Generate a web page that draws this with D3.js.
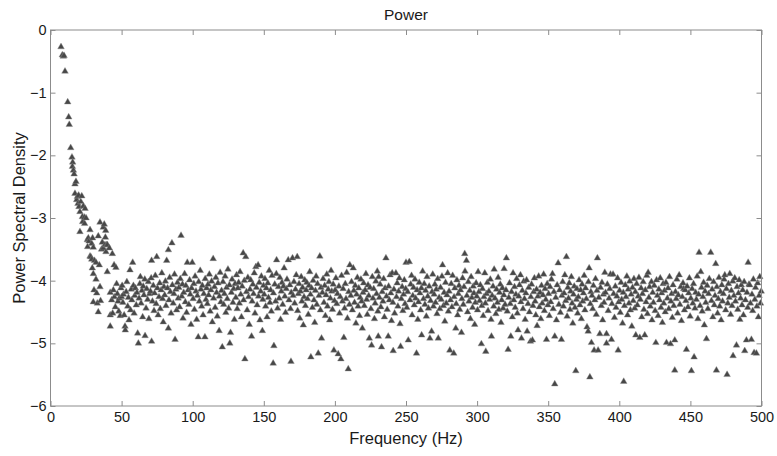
<!DOCTYPE html>
<html>
<head>
<meta charset="utf-8">
<script src="https://cdn.jsdelivr.net/npm/d3@7"></script>
<style>
  html, body { margin: 0; padding: 0; background: #fff; }
  svg { display: block; font-family: "Liberation Sans", Arial, Helvetica, sans-serif; }
</style>
</head>
<body>
<div id="chart"></div>
<script>
// points, [frequency Hz, power spectral density]
let lowBand = [[7.4,-0.27],[8.3,-0.40],[9.0,-0.42],[9.5,-0.41],[10.2,-0.66],[12.1,-1.15],[12.8,-1.39],[13.2,-1.51],[14.2,-1.88],[15.1,-2.03],[15.6,-2.11],[15.4,-2.18],[16.1,-2.24],[16.6,-2.30],[17.2,-2.46],[17.9,-2.42],[17.2,-2.61],[18.4,-2.71],[18.9,-2.66],[19.3,-2.77],[19.8,-2.64],[20.0,-2.82],[20.7,-2.90],[21.3,-2.74],[22.0,-2.65],[22.4,-2.98],[22.6,-3.06],[23.1,-2.81],[23.8,-2.99],[24.0,-3.09],[24.3,-2.85],[25.0,-3.00],[20.7,-3.22],[25.9,-3.35],[26.1,-3.46],[26.6,-3.32],[27.1,-3.37],[27.8,-3.19],[27.8,-3.61],[28.3,-3.62],[29.0,-3.41],[29.0,-3.66],[29.4,-3.80],[29.6,-3.32],[30.1,-3.47],[30.1,-3.89],[30.6,-4.15],[30.1,-4.34],[30.9,-3.68],[32.0,-3.71],[32.0,-3.98],[32.5,-4.20],[32.9,-4.36],[33.6,-3.29],[33.6,-4.50],[34.3,-3.75],[34.8,-3.07],[34.8,-4.10],[35.2,-4.32],[35.9,-3.50],[36.4,-3.39],[37.1,-3.15],[37.1,-3.48],[37.8,-3.10],[38.3,-3.43],[38.6,-3.31],[38.8,-3.20],[39.0,-3.54],[39.5,-3.43],[39.9,-3.86],[40.0,-3.43],[41.4,-3.48],[42.0,-4.19],[42.0,-4.55],[42.0,-4.73],[43.0,-4.31],[43.5,-3.57],[43.7,-4.52],[44.2,-4.15],[44.7,-3.75],[44.9,-4.26],[45.6,-4.42],[46.0,-3.79],[46.5,-4.05],[47.0,-4.21],[47.5,-4.33],[48.0,-4.49],[48.4,-4.28],[49.0,-4.56],[49.5,-4.12],[50.0,-4.26]];

let band50 = [[50.4,-4.08],[50.9,-4.35],[51.3,-4.22],[51.8,-4.55],[52.4,-4.73],[52.6,-4.79],[53.2,-4.18],[53.7,-4.02],[54.3,-4.41],[54.8,-4.27],[55.2,-4.63],[55.9,-3.83],[56.3,-4.47],[56.8,-4.14],[57.2,-4.31],[57.8,-3.71],[58.3,-4.08],[58.8,-4.52],[59.2,-4.24],[59.7,-4.12],
  [60.3,-4.39],[60.8,-4.19],[61.3,-4.84],[61.8,-5.00],[62.3,-4.28],[62.8,-4.05],[63.2,-3.94],[63.7,-4.36],[64.3,-4.16],[64.8,-4.58],[65.2,-4.09],[65.7,-4.23],[66.3,-3.98],[66.5,-4.88],[67.2,-4.44],[67.7,-4.13],[68.3,-4.30],[68.8,-4.02],[69.2,-4.61],[69.7,-4.21],
  [70.3,-4.17],[70.8,-3.96],[71.1,-3.68],[71.1,-4.97],[71.7,-4.33],[72.3,-4.08],[72.8,-4.48],[73.2,-4.20],[73.7,-3.92],[74.3,-4.37],[74.7,-3.62],[75.2,-4.12],[75.7,-4.55],[76.3,-4.26],[76.8,-4.04],[77.2,-4.45],[77.8,-4.15],[78.3,-3.88],[78.8,-4.29],[79.3,-4.66],[79.8,-4.10],
  [80.3,-4.23],[80.8,-4.01],[81.2,-4.40],[81.7,-3.68],[82.3,-4.12],[82.9,-3.51],[82.9,-4.76],[83.3,-4.31],[83.8,-3.95],[84.3,-4.18],[84.8,-4.52],[85.4,-3.40],[85.7,-4.07],[86.3,-4.36],[86.8,-4.21],[87.2,-3.90],[87.6,-4.94],[88.2,-4.14],[88.7,-4.47],[89.3,-4.03],[89.8,-4.28],
  [90.3,-4.11],[90.8,-4.42],[91.3,-3.97],[91.8,-3.28],[92.3,-4.25],[92.8,-4.06],[93.2,-4.60],[93.7,-4.19],[94.3,-3.89],[94.8,-4.34],[95.2,-4.08],[95.7,-4.51],[96.2,-3.71],[96.8,-4.15],[97.3,-4.38],[97.8,-3.99],[98.3,-4.22],[98.8,-4.70],[99.2,-4.12],[99.7,-3.71]];

let band100 = [[100.3,-4.29],[100.8,-4.05],[101.2,-4.46],[101.7,-3.93],[102.3,-4.17],[102.8,-4.62],[103.3,-4.24],[103.9,-4.90],[104.2,-4.02],[104.7,-4.33],[105.3,-3.84],[105.8,-4.14],[106.3,-4.41],[106.8,-4.08],[107.3,-4.55],[107.8,-4.21],[108.6,-4.90],[108.8,-3.97],[109.3,-4.30],[109.8,-4.12],
  [110.3,-4.37],[110.8,-4.06],[111.2,-4.23],[111.7,-3.90],[112.3,-4.49],[112.8,-4.15],[113.3,-4.01],[113.8,-4.66],[114.4,-3.65],[114.7,-4.28],[115.3,-4.10],[115.8,-4.43],[116.3,-3.95],[116.8,-4.19],[117.3,-4.57],[117.8,-4.04],[118.6,-4.80],[118.8,-4.25],[119.3,-3.87],[119.8,-4.34],
  [120.3,-4.16],[120.8,-5.06],[121.3,-4.02],[121.8,-4.38],[122.3,-4.21],[122.8,-3.93],[123.3,-4.51],[123.8,-4.11],[124.3,-4.29],[124.8,-3.82],[125.3,-4.44],[125.8,-4.07],[126.1,-5.00],[126.6,-4.83],[127.2,-4.19],[127.7,-3.98],[128.3,-4.35],[128.8,-4.13],[129.3,-4.62],[129.8,-4.05],
  [130.3,-4.27],[130.8,-3.91],[131.3,-4.45],[131.8,-4.12],[132.3,-4.03],[132.8,-4.36],[133.3,-3.86],[133.8,-4.22],[134.3,-4.58],[134.8,-4.09],[135.5,-3.56],[135.8,-4.31],[136.3,-4.00],[136.7,-5.25],[137.3,-3.62],[137.8,-4.18],[138.3,-4.47],[138.8,-3.95],[139.3,-4.26],[139.8,-4.70],
  [140.3,-4.14],[140.8,-3.99],[141.4,-4.89],[141.8,-4.33],[142.3,-4.06],[142.8,-4.21],[143.3,-3.88],[143.8,-4.52],[144.4,-3.78],[144.8,-4.11],[145.3,-4.39],[146.0,-3.75],[146.3,-4.25],[146.8,-4.03],[147.3,-4.63],[147.8,-4.17],[148.3,-3.93],[149.0,-4.80],[149.3,-4.30],[149.8,-4.08]];

let band150 = [[150.3,-4.22],[150.8,-3.97],[151.3,-4.41],[151.8,-4.12],[152.3,-4.58],[152.8,-4.04],[153.3,-4.27],[153.8,-3.84],[154.3,-4.35],[154.8,-4.15],[155.3,-4.49],[155.8,-3.92],[156.6,-5.32],[156.8,-4.20],[157.1,-5.04],[157.7,-4.06],[158.3,-4.33],[158.8,-3.89],[159.0,-3.67],[159.7,-4.44],
  [160.3,-4.10],[160.8,-4.28],[161.3,-3.95],[161.8,-4.62],[162.3,-4.17],[162.8,-4.03],[163.3,-4.38],[163.8,-4.09],[164.3,-3.80],[164.8,-4.25],[165.3,-4.51],[165.8,-4.13],[166.3,-3.98],[167.2,-3.67],[167.7,-4.31],[168.3,-4.07],[169.1,-5.29],[168.8,-4.45],[169.3,-4.19],[170.2,-3.64],
  [170.6,-4.24],[171.2,-4.02],[171.7,-4.36],[172.3,-4.14],[172.8,-3.91],[173.5,-3.62],[173.8,-4.48],[174.3,-4.21],[174.8,-4.05],[175.3,-4.60],[175.8,-4.17],[176.3,-3.94],[176.8,-4.33],[177.3,-4.11],[177.8,-4.71],[178.3,-4.26],[178.8,-3.99],[179.3,-4.40],[179.8,-4.15],[180.2,-4.03],
  [180.7,-4.29],[181.3,-4.54],[181.8,-4.08],[182.3,-3.86],[182.8,-4.22],[183.1,-5.22],[183.6,-4.12],[184.2,-4.43],[184.7,-4.00],[185.3,-4.31],[185.8,-4.67],[186.3,-4.16],[186.8,-3.93],[187.3,-4.38],[187.8,-4.05],[188.3,-5.16],[188.8,-4.24],[189.4,-3.61],[189.8,-4.47],[190.2,-4.11],
  [190.6,-4.92],[191.2,-4.19],[191.7,-3.97],[192.3,-4.35],[192.8,-4.08],[193.3,-4.56],[193.8,-4.23],[194.3,-3.90],[194.8,-4.41],[195.3,-4.14],[195.8,-4.02],[196.3,-4.63],[196.8,-4.28],[197.3,-3.84],[197.8,-4.17],[198.3,-4.46],[198.8,-4.06],[199.3,-5.11],[199.7,-4.32],[200.2,-4.15]];

let band200 = [[200.7,-3.96],[201.3,-4.37],[201.8,-4.21],[202.3,-5.17],[202.8,-4.09],[203.3,-4.52],[203.8,-4.26],[204.2,-5.25],[204.7,-3.92],[205.3,-4.33],[205.8,-4.13],[206.3,-4.91],[206.8,-4.44],[207.3,-4.05],[207.8,-4.29],[208.3,-3.87],[208.8,-4.60],[209.4,-5.41],[209.7,-4.18],[210.2,-4.38],
  [210.5,-3.75],[211.2,-4.24],[211.7,-4.02],[212.3,-4.47],[212.9,-3.80],[213.3,-4.16],[213.8,-4.35],[214.3,-4.08],[214.8,-4.68],[215.3,-4.22],[215.8,-3.95],[216.3,-4.41],[216.8,-4.12],[217.3,-4.56],[217.8,-4.27],[218.3,-3.98],[218.8,-4.33],[219.3,-4.76],[219.8,-4.19],[220.2,-4.04],
  [220.7,-4.40],[221.3,-4.15],[221.8,-3.89],[222.3,-4.30],[222.8,-4.54],[223.3,-4.07],[223.8,-4.24],[224.2,-4.92],[224.7,-4.11],[225.3,-4.45],[225.8,-5.03],[226.3,-3.94],[226.8,-4.28],[227.3,-4.13],[227.8,-4.61],[228.3,-4.36],[228.8,-4.01],[229.3,-4.21],[229.8,-3.85],[230.2,-4.49],
  [230.5,-4.89],[230.8,-3.94],[231.3,-4.27],[231.8,-4.06],[232.3,-4.42],[232.8,-5.06],[233.3,-4.18],[233.8,-4.33],[234.3,-3.97],[234.8,-4.58],[235.3,-4.12],[235.9,-3.64],[236.3,-4.25],[236.8,-4.46],[237.5,-4.89],[237.8,-4.09],[238.3,-4.31],[238.8,-3.91],[239.3,-4.20],[239.8,-4.64],
  [240.3,-3.88],[240.8,-4.35],[241.0,-5.12],[241.5,-4.14],[242.0,-4.52],[242.9,-3.88],[243.3,-4.26],[243.8,-4.04],[244.3,-4.41],[244.8,-4.17],[245.3,-3.96],[245.8,-4.69],[246.2,-5.05],[246.7,-4.29],[247.3,-4.10],[247.8,-4.48],[248.3,-4.22],[248.8,-3.99],[249.3,-4.37],[249.8,-4.13]];

let band250 = [[250.0,-3.71],[250.6,-4.43],[251.2,-4.18],[251.6,-4.95],[252.3,-3.70],[252.8,-4.31],[253.3,-4.06],[253.9,-3.92],[254.3,-4.55],[254.8,-4.24],[255.3,-4.11],[255.8,-4.39],[256.3,-3.98],[256.8,-4.28],[257.4,-5.16],[257.8,-4.15],[258.3,-4.62],[258.8,-4.34],[259.3,-4.03],[259.8,-4.20],
  [260.3,-4.47],[260.8,-4.12],[261.0,-4.87],[261.7,-3.85],[262.3,-4.29],[262.8,-4.05],[263.3,-4.38],[263.8,-4.16],[264.3,-4.57],[264.8,-3.94],[265.3,-4.25],[265.8,-4.44],[266.3,-4.09],[266.8,-4.92],[267.3,-4.32],[268.0,-4.81],[268.3,-4.18],[268.8,-3.90],[269.3,-4.41],[269.8,-4.22],
  [270.3,-4.06],[270.8,-4.35],[271.3,-4.14],[271.8,-4.53],[272.3,-3.97],[272.7,-4.92],[273.3,-4.27],[273.8,-4.45],[274.3,-4.11],[274.8,-4.30],[275.3,-3.93],[275.7,-3.75],[276.3,-4.40],[276.8,-4.19],[277.3,-4.65],[277.8,-4.03],[278.3,-4.36],[278.8,-4.23],[279.3,-3.88],[279.8,-4.49],
  [280.3,-4.17],[280.8,-5.11],[281.3,-4.31],[281.8,-4.05],[282.3,-4.42],[282.8,-3.92],[283.6,-5.16],[283.8,-4.26],[284.3,-4.12],[285.0,-4.76],[285.3,-4.37],[285.8,-3.99],[286.3,-4.55],[286.8,-4.21],[287.3,-4.08],[287.8,-4.46],[288.3,-4.15],[289.0,-4.83],[289.3,-4.29],[289.8,-3.96],
  [290.3,-4.38],[290.8,-4.10],[291.3,-3.57],[291.5,-3.85],[292.5,-3.68],[292.8,-4.24],[293.3,-4.50],[293.8,-4.02],[294.3,-4.33],[294.8,-4.16],[295.3,-4.61],[295.8,-3.94],[296.3,-4.27],[296.8,-4.43],[297.3,-4.09],[297.8,-4.20],[298.3,-4.70],[298.8,-4.35],[299.3,-4.04],[299.8,-4.25]];

let band300 = [[300.3,-4.47],[300.7,-3.86],[301.3,-4.18],[301.8,-4.32],[302.3,-4.07],[303.0,-5.01],[303.3,-4.40],[303.8,-4.13],[304.3,-4.56],[304.8,-4.26],[305.4,-3.88],[305.8,-4.36],[306.1,-5.13],[306.6,-4.21],[307.2,-4.03],[307.7,-4.48],[308.3,-4.17],[308.8,-4.30],[309.3,-3.98],[309.8,-4.62],
  [310.1,-4.89],[310.6,-4.24],[311.2,-4.09],[311.7,-4.41],[312.0,-3.82],[312.6,-4.28],[313.2,-4.53],[313.7,-4.14],[314.3,-4.35],[314.8,-3.95],[315.3,-4.46],[315.8,-4.19],[316.3,-4.06],[316.8,-4.67],[317.3,-4.31],[317.8,-4.12],[318.3,-4.44],[318.8,-4.23],[319.0,-3.81],[319.7,-4.38],
  [320.3,-4.15],[320.6,-3.64],[321.2,-4.49],[321.8,-5.10],[322.3,-4.27],[322.8,-4.04],[323.3,-4.37],[323.7,-4.89],[324.2,-4.18],[324.8,-4.58],[325.3,-3.88],[325.8,-4.31],[326.3,-4.10],[326.8,-4.43],[327.3,-4.22],[327.8,-3.97],[328.3,-4.52],[328.8,-4.79],[329.3,-4.25],[329.8,-4.07],
  [330.5,-3.91],[330.8,-4.34],[331.2,-4.92],[331.8,-4.16],[332.3,-4.45],[332.8,-4.01],[333.3,-4.29],[333.8,-4.62],[334.3,-4.20],[334.8,-3.99],[335.2,-4.81],[335.8,-4.37],[336.3,-4.11],[336.8,-4.50],[337.5,-4.97],[337.8,-4.26],[338.3,-4.06],[338.9,-4.95],[339.3,-4.40],[339.8,-4.18],
  [340.3,-3.96],[340.8,-4.33],[341.3,-4.55],[341.8,-4.14],[342.2,-4.72],[342.8,-4.25],[343.3,-3.93],[343.8,-4.42],[344.3,-4.19],[344.8,-4.61],[345.3,-4.08],[345.8,-4.36],[346.3,-4.23],[346.8,-3.90],[347.3,-4.48],[347.8,-4.13],[348.3,-4.30],[348.8,-4.94],[349.3,-4.05],[349.8,-4.39]];

let band350 = [[350.3,-4.21],[350.8,-4.56],[351.3,-4.10],[351.8,-4.34],[352.3,-3.98],[353.0,-3.89],[353.5,-4.45],[354.0,-4.18],[354.6,-5.65],[354.6,-4.89],[355.3,-4.27],[355.8,-4.63],[356.3,-4.07],[357.0,-3.72],[357.5,-4.38],[358.0,-4.15],[358.6,-4.51],[359.3,-4.94],[359.6,-4.24],[360.2,-4.02],
  [360.7,-4.41],[361.2,-4.20],[361.7,-3.91],[362.3,-4.32],[362.8,-3.62],[363.3,-4.57],[363.8,-4.11],[364.3,-4.28],[364.8,-4.04],[365.3,-4.46],[365.8,-4.17],[366.3,-3.94],[366.8,-4.36],[367.3,-4.68],[367.8,-4.22],[368.3,-4.09],[368.8,-4.43],[369.4,-5.44],[369.8,-4.30],[370.2,-4.13],
  [370.7,-4.52],[371.2,-4.26],[371.7,-3.99],[372.3,-4.39],[372.8,-4.15],[373.3,-4.61],[373.8,-4.06],[374.3,-4.33],[374.8,-4.20],[375.3,-3.92],[375.8,-4.47],[376.3,-4.12],[376.8,-4.29],[377.3,-4.74],[378.1,-4.81],[378.3,-4.02],[378.8,-3.80],[379.3,-5.54],[379.6,-4.37],[380.0,-4.18],
  [380.4,-4.99],[380.8,-4.24],[381.3,-4.45],[381.8,-4.08],[382.3,-5.11],[382.8,-4.31],[383.3,-3.97],[383.8,-4.54],[384.3,-4.16],[384.6,-3.64],[385.1,-5.11],[385.6,-4.27],[386.3,-4.85],[386.8,-4.11],[387.3,-4.40],[387.8,-4.03],[388.3,-4.63],[388.8,-4.22],[389.3,-4.35],[389.8,-3.87],
  [390.3,-4.19],[391.0,-5.00],[391.0,-4.85],[391.6,-4.06],[392.2,-4.48],[392.8,-4.28],[393.3,-4.13],[393.8,-3.90],[394.5,-4.94],[394.8,-4.37],[395.6,-3.90],[396.0,-4.21],[396.6,-4.59],[397.2,-4.09],[397.7,-4.43],[398.3,-4.25],[398.8,-3.96],[399.2,-5.11],[399.6,-4.34],[400.2,-4.16]];

let band400 = [[400.7,-4.51],[401.2,-4.03],[401.7,-4.30],[402.3,-4.68],[402.8,-4.19],[403.1,-5.61],[403.6,-4.40],[404.2,-4.07],[404.7,-4.26],[405.3,-3.93],[405.8,-4.55],[406.3,-4.14],[406.8,-4.36],[407.3,-4.01],[407.8,-4.47],[408.3,-4.22],[408.8,-4.73],[409.3,-4.11],[409.8,-4.32],[410.3,-3.97],
  [410.8,-4.44],[411.3,-4.18],[411.6,-4.87],[412.2,-4.05],[412.7,-4.39],[413.3,-4.25],[413.8,-3.95],[414.4,-4.91],[414.8,-4.30],[415.3,-4.12],[415.8,-4.58],[416.3,-4.21],[416.8,-4.02],[417.3,-4.46],[417.9,-4.87],[418.3,-4.15],[418.8,-4.34],[419.3,-3.92],[419.8,-4.53],[420.3,-3.87],
  [420.8,-4.27],[421.3,-4.10],[421.8,-4.41],[422.6,-4.02],[423.0,-4.63],[423.5,-4.19],[424.0,-4.35],[424.6,-4.08],[425.2,-4.48],[425.7,-4.99],[426.2,-3.99],[426.8,-4.24],[427.3,-4.56],[427.8,-4.14],[428.3,-4.31],[428.8,-3.96],[429.3,-4.43],[429.8,-4.20],[430.3,-4.67],[430.8,-4.05],
  [431.3,-4.36],[431.8,-4.16],[432.3,-4.50],[432.8,-4.03],[433.2,-4.99],[433.8,-4.28],[434.3,-4.12],[434.8,-4.45],[435.3,-3.94],[436.0,-5.01],[436.3,-4.33],[436.8,-4.21],[437.3,-4.59],[437.8,-4.07],[438.3,-4.40],[439.0,-5.43],[439.0,-4.95],[439.5,-4.18],[440.0,-4.29],[440.5,-3.98],
  [441.0,-4.52],[441.5,-4.23],[442.1,-3.91],[442.6,-4.38],[443.2,-4.10],[443.7,-4.64],[444.3,-4.26],[444.8,-4.04],[445.3,-4.13],[445.8,-4.47],[446.3,-4.15],[446.8,-4.32],[447.2,-5.10],[447.7,-4.09],[448.3,-4.42],[448.8,-4.20],[449.3,-3.96],[449.8,-4.57],[450.3,-4.28],[450.7,-5.44]];

let band450 = [[451.2,-4.13],[451.7,-4.36],[452.2,-4.05],[452.6,-5.22],[453.2,-4.44],[453.7,-4.19],[454.2,-4.30],[454.8,-3.93],[455.3,-4.61],[455.8,-4.22],[456.1,-3.55],[456.8,-4.40],[457.3,-3.86],[457.8,-4.11],[458.3,-4.49],[458.8,-4.26],[459.3,-4.03],[459.8,-4.71],[460.3,-4.17],[460.8,-4.35],
  [461.3,-4.93],[461.8,-4.08],[462.3,-4.45],[462.8,-4.21],[463.3,-3.97],[464.3,-3.55],[464.8,-4.32],[465.3,-4.14],[465.8,-4.58],[466.3,-4.02],[466.8,-4.39],[467.3,-4.24],[467.8,-3.73],[468.3,-5.43],[468.6,-4.10],[469.1,-4.52],[469.6,-4.29],[470.1,-3.95],[470.6,-4.41],[471.1,-4.18],
  [471.6,-4.63],[472.1,-4.07],[472.6,-4.33],[473.2,-4.21],[473.7,-3.98],[474.2,-3.91],[474.8,-4.47],[475.3,-4.13],[475.8,-5.50],[476.3,-4.36],[476.8,-4.05],[477.3,-4.27],[477.7,-3.89],[478.3,-4.54],[478.8,-4.16],[479.3,-4.40],[479.8,-4.01],[480.0,-5.20],[480.6,-4.24],[481.2,-3.96],
  [481.7,-4.33],[482.4,-5.03],[482.8,-4.10],[483.3,-4.46],[483.8,-4.20],[484.3,-3.99],[484.8,-4.62],[485.3,-4.28],[485.8,-4.07],[486.3,-4.39],[486.8,-4.15],[487.3,-4.55],[487.8,-4.02],[488.2,-5.12],[488.7,-4.31],[489.4,-4.95],[489.8,-4.19],[490.3,-4.43],[490.6,-3.71],[491.2,-4.06],
  [491.7,-4.07],[492.2,-4.36],[492.9,-4.94],[493.3,-4.22],[493.8,-4.48],[494.3,-3.98],[494.8,-5.15],[495.3,-4.30],[495.8,-4.11],[496.4,-5.16],[496.8,-4.41],[497.3,-4.04],[497.8,-4.58],[498.3,-4.24],[498.8,-3.94],[499.3,-4.36],[499.8,-4.17]];

let xTicks = [0, 50, 100, 150, 200, 250, 300, 350, 400, 450, 500];
let yTicks = [0, -1, -2, -3, -4, -5, -6];

let data = [].concat(lowBand, band50, band100, band150, band200, band250, band300, band350, band400, band450);

const width = 777, height = 456;
const margin = {top: 30, right: 15.5, bottom: 50, left: 50.5};
const innerWidth = width - margin.left - margin.right;
const innerHeight = height - margin.top - margin.bottom;

let svg = d3.select("#chart").append("svg")
    .attr("width", width)
    .attr("height", height);

let g = svg.append("g")
    .attr("transform", "translate(" + margin.left + "," + margin.top + ")");

let xScale = d3.scaleLinear().domain([0, 500]).range([0, innerWidth]);
let yScale = d3.scaleLinear().domain([-6, 0]).range([innerHeight, 0]);

// points
g.append("g").selectAll("path")
    .data(data)
    .enter().append("path")
    .attr("d", d3.symbol().type(d3.symbolTriangle).size(19))
    .attr("transform", d => "translate(" + xScale(d[0]) + "," + yScale(d[1]) + ")")
    .attr("fill", "#474747")
    .attr("stroke", "#8a8a8a")
    .attr("stroke-width", 0.4);

// axes, ticks pointing inwards like a box plot frame
let axisColor = "#8c8c8c";
let xAxis = g.append("g")
    .attr("transform", "translate(0," + innerHeight + ")")
    .call(d3.axisBottom(xScale).tickValues(xTicks).tickSizeInner(-5).tickSizeOuter(0).tickPadding(6));
let yAxis = g.append("g")
    .call(d3.axisLeft(yScale).tickValues(yTicks).tickSizeInner(-5).tickSizeOuter(0).tickPadding(4)
        .tickFormat(d3.format("d")));
let topAxis = g.append("g")
    .call(d3.axisTop(xScale).tickValues(xTicks).tickSizeInner(-5).tickSizeOuter(0));
let rightAxis = g.append("g")
    .attr("transform", "translate(" + innerWidth + ",0)")
    .call(d3.axisRight(yScale).tickValues(yTicks).tickSizeInner(-5).tickSizeOuter(0));

// top and right only carry tick marks
topAxis.selectAll(".tick text").remove();
rightAxis.selectAll(".tick text").remove();

[xAxis, yAxis, topAxis, rightAxis].forEach(a => {
    a.select(".domain").remove();
    a.selectAll(".tick line").attr("stroke", axisColor);
    a.selectAll(".tick text")
        .attr("fill", "#1a1a1a")
        .style("font-size", "14.5px")
        .style("font-family", "'Liberation Sans', Arial, sans-serif");
});

// frame
g.append("rect")
    .attr("x", 0).attr("y", 0)
    .attr("width", innerWidth).attr("height", innerHeight)
    .attr("fill", "none")
    .attr("stroke", axisColor)
    .attr("stroke-width", 1);

// labels
svg.append("text")
    .attr("x", margin.left + innerWidth / 2)
    .attr("y", 20)
    .attr("text-anchor", "middle")
    .style("font-size", "15.5px")
    .attr("fill", "#1a1a1a")
    .text("Power");

svg.append("text")
    .attr("x", margin.left + innerWidth / 2)
    .attr("y", 444)
    .attr("text-anchor", "middle")
    .style("font-size", "16.5px")
    .attr("fill", "#1a1a1a")
    .text("Frequency (Hz)");

svg.append("text")
    .attr("transform", "translate(25," + (margin.top + innerHeight / 2) + ") rotate(-90)")
    .attr("text-anchor", "middle")
    .style("font-size", "16.5px")
    .attr("fill", "#1a1a1a")
    .text("Power Spectral Density");
</script>
</body>
</html>
